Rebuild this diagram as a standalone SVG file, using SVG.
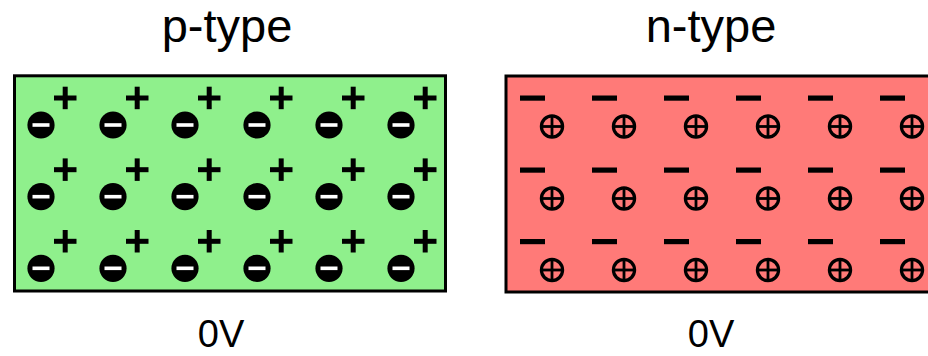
<svg xmlns="http://www.w3.org/2000/svg" xmlns:xlink="http://www.w3.org/1999/xlink" width="928" height="356" viewBox="0 0 928 356">
<style>
.lbl{font-family:"Liberation Sans",Arial,sans-serif;fill:#000;text-anchor:middle}
.title{font-size:47px}
.volt{font-size:38px}
.box{stroke:#000;stroke-width:3}
</style>
<defs>
<g id="acc">
<circle cx="0" cy="0" r="13.6" fill="#000"/>
<rect x="-8.5" y="-1.8" width="17" height="3.6" fill="#fff"/>
<rect x="13" y="-29.5" width="22.5" height="5" fill="#000"/>
<rect x="21.7" y="-38.3" width="5" height="22.5" fill="#000"/>
</g>
<g id="don">
<rect x="-32" y="-31" width="25" height="5.2" fill="#000"/>
<circle cx="0" cy="0" r="10.6" fill="none" stroke="#000" stroke-width="3.2"/>
<line x1="-10.6" y1="0" x2="10.6" y2="0" stroke="#000" stroke-width="2.8"/>
<line x1="0" y1="-10.6" x2="0" y2="10.6" stroke="#000" stroke-width="2.8"/>
</g>
<g id="prow">
<use xlink:href="#acc" x="41"/>
<use xlink:href="#acc" x="113"/>
<use xlink:href="#acc" x="185"/>
<use xlink:href="#acc" x="257"/>
<use xlink:href="#acc" x="329"/>
<use xlink:href="#acc" x="401"/>
</g>
<g id="nrow">
<use xlink:href="#don" x="552"/>
<use xlink:href="#don" x="624"/>
<use xlink:href="#don" x="696"/>
<use xlink:href="#don" x="768"/>
<use xlink:href="#don" x="840"/>
<use xlink:href="#don" x="912"/>
</g>
</defs>
<rect width="928" height="356" fill="#fff"/>
<g id="p-type">
<text class="lbl title" x="227" y="42">p-type</text>
<rect class="box" x="14.5" y="75.8" width="431" height="215.2" fill="#8FF08C"/>
<use xlink:href="#prow" y="125"/>
<use xlink:href="#prow" y="196.7"/>
<use xlink:href="#prow" y="268.3"/>
<text class="lbl volt" x="221" y="346.5">0V</text>
</g>
<g id="n-type">
<text class="lbl title" x="711" y="42">n-type</text>
<rect class="box" x="506" y="76" width="440" height="216" fill="#FF7A78"/>
<use xlink:href="#nrow" y="126.5"/>
<use xlink:href="#nrow" y="198.5"/>
<use xlink:href="#nrow" y="270"/>
<text class="lbl volt" x="711" y="346.5">0V</text>
</g>
<g id="connectors"/>
</svg>
